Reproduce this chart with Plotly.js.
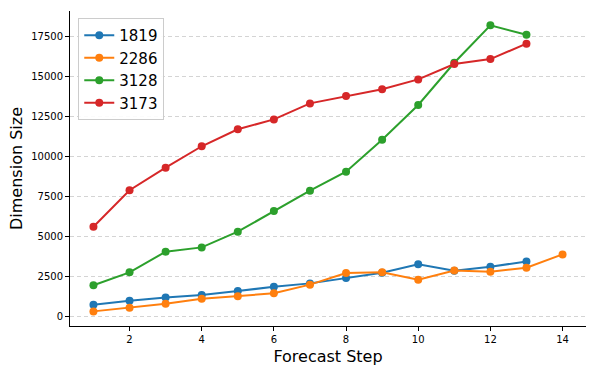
<!DOCTYPE html>
<html>
<head>
<meta charset="utf-8">
<script src="https://cdn.plot.ly/plotly-3.0.1.min.js"></script>
<style>
  html, body { margin: 0; padding: 0; background: #fff; }
  #chart { width: 598px; height: 374px; }
</style>
</head>
<body>
<div id="chart"></div>
<script>
// Values
const steps13 = [1, 2, 3, 4, 5, 6, 7, 8, 9, 10, 11, 12, 13];
const steps14 = [1, 2, 3, 4, 5, 6, 7, 8, 9, 10, 11, 12, 13, 14];

const s1819 = [740, 990, 1180, 1340, 1590, 1860, 2070, 2410, 2740, 3260, 2860, 3110, 3440];
const s2286 = [320, 550, 800, 1110, 1260, 1450, 1990, 2720, 2760, 2300, 2880, 2800, 3050, 3880];
const s3128 = [1950, 2760, 4050, 4320, 5300, 6590, 7860, 9050, 11050, 13220, 15860, 18200, 17610];
const s3173 = [5610, 7890, 9300, 10640, 11700, 12320, 13320, 13780, 14200, 14820, 15780, 16090, 17050];

const names = ["1819", "2286", "3128", "3173"];
const colors = ["#1f77b4", "#ff7f0e", "#2ca02c", "#d62728"];

const series = [
    { x: steps13, y: s1819 },
    { x: steps14, y: s2286 },
    { x: steps13, y: s3128 },
    { x: steps13, y: s3173 }
];

const traces = series.map((s, i) => ({
    x: s.x, y: s.y,
    type: 'scatter',
    mode: 'lines+markers',
    name: names[i],
    line: { color: colors[i], width: 2 },
    marker: { color: colors[i], size: 8 }
}));

const font = "DejaVu Sans, sans-serif";

const layout = {
    width: 598, height: 374,
    margin: { l: 70, r: 12, t: 11, b: 48 },
    paper_bgcolor: 'white',
    plot_bgcolor: 'white',
    font: { family: font, color: '#000' },
    showlegend: true,
    legend: {
        x: 0.016, y: 0.978, xanchor: 'left', yanchor: 'top',
        bgcolor: 'rgba(255,255,255,0.9)',
        bordercolor: '#cccccc', borderwidth: 1,
        font: { family: font, size: 15, color: '#000' }
    },
    xaxis: {
        range: [0.35, 14.65],
        tick0: 0, dtick: 2,
        showgrid: false, zeroline: false,
        showline: true, linecolor: '#000', linewidth: 1,
        ticks: 'outside', ticklen: 4, tickcolor: '#000',
        tickfont: { family: font, size: 10 },
        title: { text: 'Forecast Step', font: { family: font, size: 16 }, standoff: 6 }
    },
    yaxis: {
        range: [-594, 19094],
        tick0: 0, dtick: 2500, tickformat: 'd',
        showgrid: true, gridcolor: '#d4d4d4', griddash: '4px,3px', gridwidth: 1,
        zeroline: false,
        showline: true, linecolor: '#000', linewidth: 1,
        ticks: 'outside', ticklen: 4, tickcolor: '#000',
        tickfont: { family: font, size: 10 },
        title: { text: 'Dimension Size', font: { family: font, size: 16 }, standoff: 4 }
    }
};

Plotly.newPlot('chart', traces, layout, { displayModeBar: false, staticPlot: true });
</script>
</body>
</html>
